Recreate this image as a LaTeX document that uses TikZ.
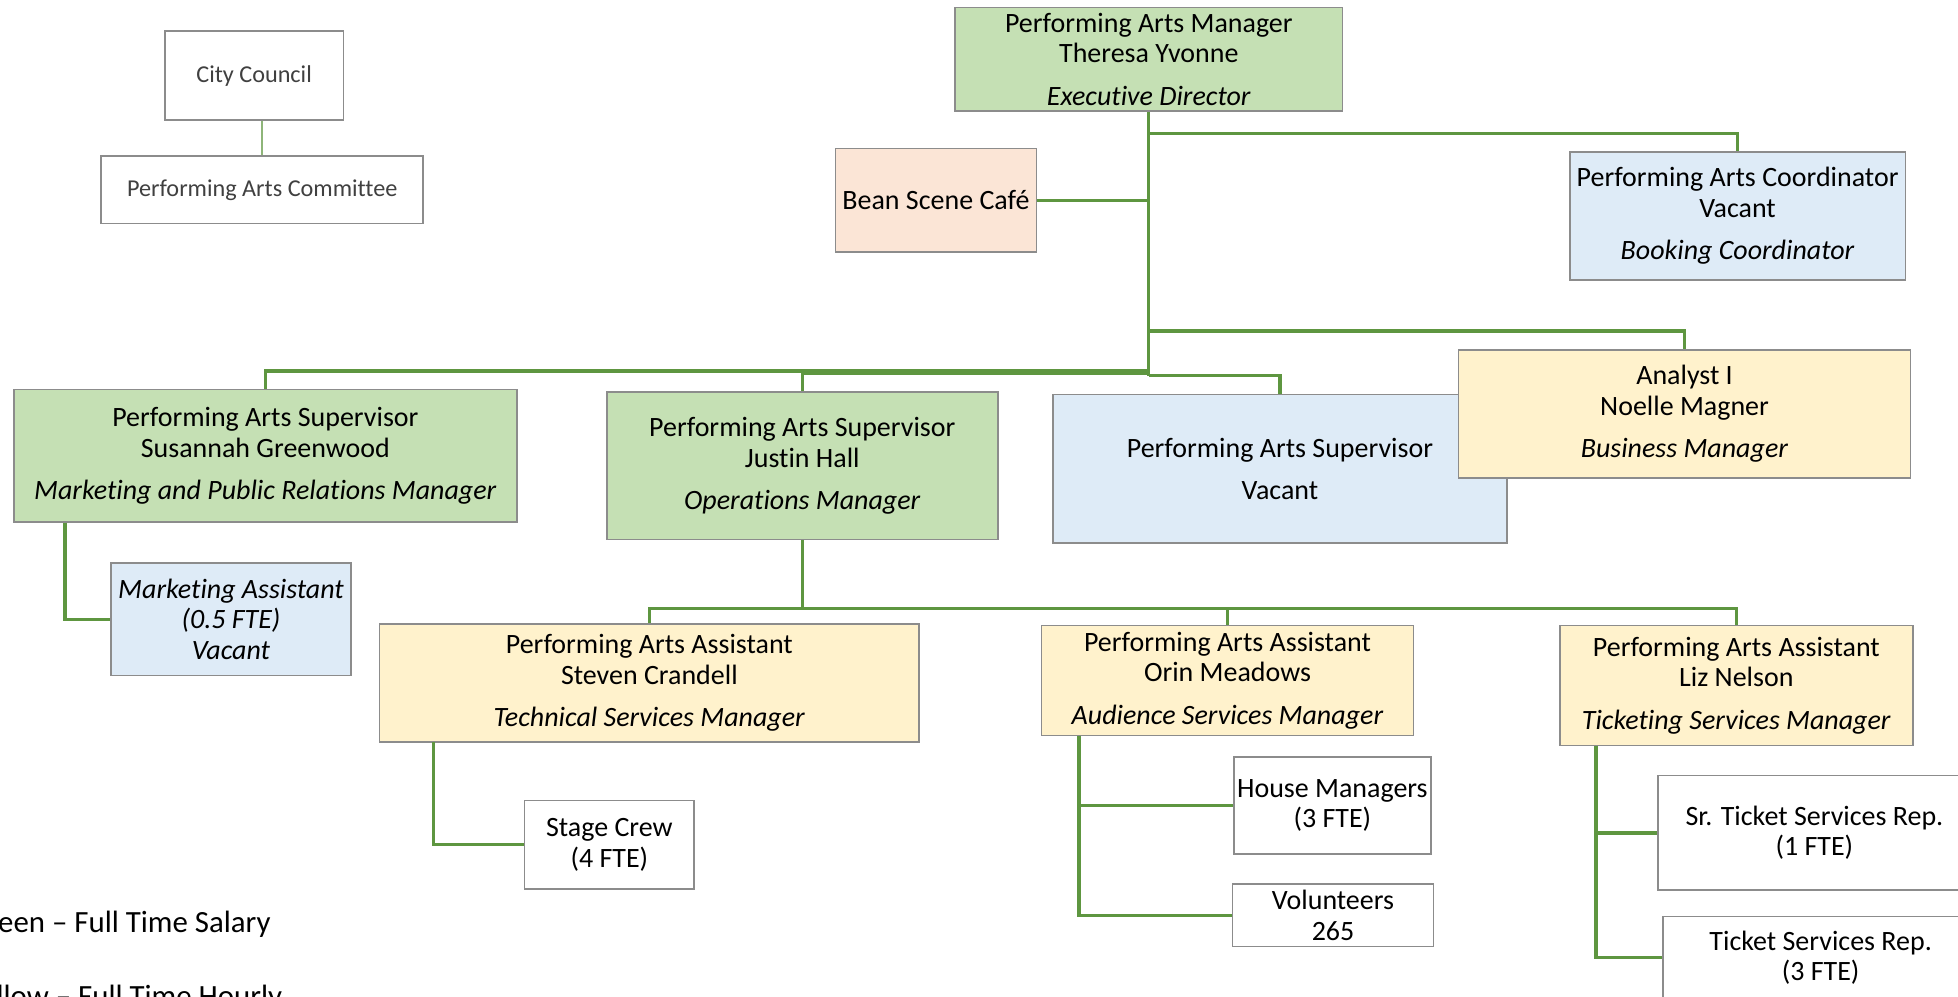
\documentclass[tikz,border=0pt]{standalone}
\usepackage{fontspec}
\setmainfont{Carlito}[Ligatures=NoCommon]
\definecolor{grn}{HTML}{C5E0B4}
\definecolor{blu}{HTML}{DEEBF7}
\definecolor{yel}{HTML}{FFF2CC}
\definecolor{pch}{HTML}{FBE5D6}
\definecolor{lineg}{HTML}{5E9640}
\definecolor{boxgray}{HTML}{8C8C8C}
\definecolor{txtgray}{HTML}{404040}
\begin{document}
\begin{tikzpicture}[x=1pt,y=-1pt,
  box/.style={draw=boxgray, line width=1.4pt, inner sep=0pt, align=center,
    font=\fontsize{22.4}{24.5}\selectfont},
  smallbox/.style={draw=boxgray, line width=1.4pt, inner sep=0pt, align=center,
    text=txtgray, fill=white, font=\fontsize{19.4}{22}\selectfont},
  conn/.style={draw=lineg, line width=2.6pt},
  thinconn/.style={draw=lineg!70, line width=1.4pt},
  legend/.style={inner sep=0pt, font=\fontsize{24.7}{28}\selectfont}]
\useasboundingbox (0,0) rectangle (1568,798);
\clip (0,0) rectangle (1568,798);
\fill[white] (0,0) rectangle (1568,798);

% --- council ---
\node[smallbox, minimum width=143, minimum height=71] (cc) at (203.5,60.5) {City Council};
\node[smallbox, minimum width=258, minimum height=54] (pac) at (210,152) {Performing Arts Committee};
\draw[thinconn] (pac.north) -- (pac.north |- cc.south);

% --- junction coordinates ---
\coordinate (jc) at (920,107);
\coordinate (ja) at (920,265);
\coordinate (js) at (920,297);
\coordinate (jj) at (920,299);
\coordinate (jv) at (920,301);
\coordinate (jb) at (642.5,487);
\coordinate (s1) at (52,418);
\coordinate (c1) at (347,594);
\coordinate (o1) at (864,589);
\coordinate (l1) at (1278,597);

% --- connectors (drawn below boxes) ---
\draw[conn] (920,89) -- (jv);
\draw[conn] (jc) -| (1391.5,122);
\draw[conn] (ja) -| (1349,280);
\draw[conn] (js) -| (212.5,312);
\draw[conn] (jj) -| (642.5,314);
\draw[conn] (jv) -| (1025,316);
\draw[conn] (830,160.5) -- (920,160.5);

% --- top level ---
\node[box, fill=grn, minimum width=310, minimum height=83] (pam) at (920,47.5)
  {Performing Arts Manager\\Theresa Yvonne\\[9.5pt]\textit{Executive Director}};
\node[box, fill=pch, minimum width=161, minimum height=83] (bean) at (749.5,160.5)
  {Bean Scene Café};
\node[box, fill=blu, minimum width=269, minimum height=102] (coord) at (1391.5,173)
  {Performing Arts Coordinator\\Vacant\\[9.5pt]\textit{Booking Coordinator}};

% --- second level ---
\node[box, fill=blu, minimum width=364, minimum height=119] (vac) at (1025,375.5)
  {Performing Arts Supervisor\\[9.5pt]Vacant};
\node[box, fill=yel, minimum width=362, minimum height=103] (ana) at (1349,331.5)
  {Analyst I\\Noelle Magner\\[9.5pt]\textit{Business Manager}};
\node[box, fill=grn, minimum width=403, minimum height=106] (sus) at (212.5,365)
  {Performing Arts Supervisor\\Susannah Greenwood\\[9.5pt]\textit{Marketing and Public Relations Manager}};
\node[box, fill=grn, minimum width=313, minimum height=118] (jus) at (642.5,373)
  {Performing Arts Supervisor\\Justin Hall\\[9.5pt]\textit{Operations Manager}};

% --- third level ---
\node[box, fill=blu, minimum width=192, minimum height=90] (ma) at (185,496)
  {\textit{Marketing Assistant}\\\textit{(0.5 FTE)}\\\textit{Vacant}};
\node[box, fill=yel, minimum width=432, minimum height=94] (ste) at (520,547)
  {Performing Arts Assistant\\Steven Crandell\\[9.5pt]\textit{Technical Services Manager}};
\node[box, fill=yel, minimum width=298, minimum height=88] (ori) at (983,545)
  {Performing Arts Assistant\\Orin Meadows\\[9.5pt]\textit{Audience Services Manager}};
\node[box, fill=yel, minimum width=283, minimum height=96] (liz) at (1390.5,549)
  {Performing Arts Assistant\\Liz Nelson\\[9.5pt]\textit{Ticketing Services Manager}};

% --- fourth level ---
\node[box, fill=white, minimum width=136, minimum height=71] (crew) at (488,676.5)
  {Stage Crew\\(4 FTE)};
\node[box, fill=white, minimum width=158, minimum height=78] (house) at (1067,645)
  {House Managers\\(3 FTE)};
\node[box, fill=white, minimum width=161, minimum height=50] (vol) at (1067.5,733)
  {Volunteers\\265};
\node[box, fill=white, minimum width=250, minimum height=92] (srt) at (1453,667)
  {Sr. Ticket Services Rep.\\(1 FTE)};
\node[box, fill=white, minimum width=252, minimum height=66] (tsr) at (1458,767)
  {Ticket Services Rep.\\(3 FTE)};

% --- lower connectors ---
\draw[conn] (sus.south -| s1) |- (ma.west);
\draw[conn] (jus.south) -- (jb);
\draw[conn] (jb) -| (ste.north);
\draw[conn] (jb) -| (ori.north);
\draw[conn] (jb) -| (liz.north);
\draw[conn] (c1) |- (crew.west);
\draw[conn] (o1) |- (vol.west);
\draw[conn] (o1 |- house.west) -- (house.west);
\draw[conn] (l1) |- (tsr.west);
\draw[conn] (l1 |- srt.west) -- (srt.west);

% --- legend ---
\node[legend, anchor=base west] (lg1) at (-25.5,747) {Green – Full Time Salary};
\node[legend, anchor=base west] (lg2) at (-25.5,806) {Yellow – Full Time Hourly};
\end{tikzpicture}
\end{document}
